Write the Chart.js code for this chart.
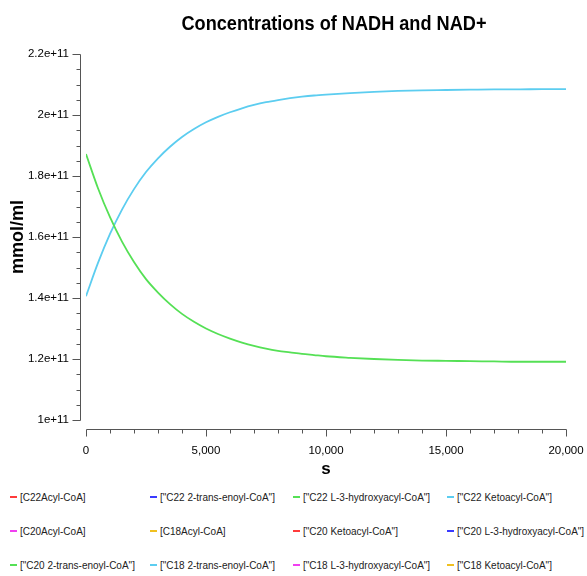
<!DOCTYPE html>
<html>
<head>
<meta charset="utf-8">
<script src="https://cdn.jsdelivr.net/npm/chart.js@4.4.0/dist/chart.umd.min.js"></script>
<style>
    body { margin: 0; background: #fff; }
    #chartBox { position: relative; width: 587px; height: 480px; }
    #legend {
        display: grid;
        grid-template-columns: 140px 143px 154px 150px;
        grid-auto-rows: 34px;
        padding-left: 10px;
        font: 10px "Liberation Sans", Arial, sans-serif;
        color: #222;
    }
    #legend .item { display: flex; align-items: center; white-space: nowrap; }
    #legend .mark { display: inline-block; width: 7px; height: 2px; margin-right: 3px; }
</style>
</head>
<body>
<div id="chartBox"><canvas id="concChart"></canvas></div>
<div id="legend"></div>
<script>
// Zeit (s)
const times = [0, 500, 1000, 1500, 2000, 2500, 3000, 3500, 4000, 4500, 5000,
    5500, 6000, 6500, 7000, 7500, 8000, 8500, 9000, 9500, 10000,
    11000, 12000, 13000, 14000, 15000, 16000, 17000, 18000, 19000, 20000];

// grüne Kurve (fällt), Werte in 1e11
const greenValues = [1.872, 1.760, 1.665, 1.585, 1.518, 1.462, 1.418, 1.380, 1.348, 1.322, 1.300,
    1.282, 1.267, 1.254, 1.243, 1.234, 1.227, 1.222, 1.217, 1.213, 1.209,
    1.204, 1.200, 1.197, 1.195, 1.194, 1.193, 1.192, 1.191, 1.191, 1.191];

// blaue Kurve (steigt), Werte in 1e11
const cyanValues = [1.406, 1.515, 1.610, 1.690, 1.757, 1.813, 1.858, 1.896, 1.928, 1.954, 1.976,
    1.994, 2.009, 2.022, 2.033, 2.042, 2.049, 2.055, 2.060, 2.064, 2.067,
    2.072, 2.076, 2.079, 2.081, 2.082, 2.083, 2.084, 2.084, 2.085, 2.085];

const seriesNames = [
    '[C22Acyl-CoA]', '["C22 2-trans-enoyl-CoA"]', '["C22 L-3-hydroxyacyl-CoA"]', '["C22 Ketoacyl-CoA"]',
    '[C20Acyl-CoA]', '[C18Acyl-CoA]', '["C20 Ketoacyl-CoA"]', '["C20 L-3-hydroxyacyl-CoA"]',
    '["C20 2-trans-enoyl-CoA"]', '["C18 2-trans-enoyl-CoA"]', '["C18 L-3-hydroxyacyl-CoA"]', '["C18 Ketoacyl-CoA"]'
];
const seriesColors = ['#ff3b3b', '#3a3aff', '#55e055', '#5ccdf0', '#f040f0', '#f0c020'];

const xTickStep = 5000;
const yTickStep = 2e10;
const X_MIN = 0, X_MAX = 20000;
const Y_MIN = 1e11, Y_MAX = 2.2e11;
const TITLE = 'Concentrations of NADH and NAD+';

const tickFont = { family: '"Liberation Sans", Arial, sans-serif', size: 11.5 };
const boldFamily = '"Liberation Sans", Arial, sans-serif';

function toPoints(values) {
    return times.map((t, i) => ({ x: t, y: values[i] * 1e11 }));
}

const datasets = seriesNames.map((name, i) => {
    let data = [];
    if (i === 2) data = toPoints(greenValues);
    if (i === 3) data = toPoints(cyanValues);
    return {
        label: name,
        data: data,
        borderColor: seriesColors[i % seriesColors.length],
        backgroundColor: seriesColors[i % seriesColors.length],
        borderWidth: 1.8,
        pointRadius: 0,
        cubicInterpolationMode: 'monotone',
        fill: false
    };
});

// Titel über der Plotfläche, etwas schmal gezogen
const titlePlugin = {
    id: 'plotTitle',
    afterDraw(chart) {
        const ctx = chart.ctx;
        ctx.save();
        ctx.font = 'bold 21px ' + boldFamily;
        const w = ctx.measureText(TITLE).width;
        const sx = 305 / w;
        ctx.translate(334, 24);
        ctx.scale(sx, 1);
        ctx.fillStyle = '#000';
        ctx.textAlign = 'center';
        ctx.textBaseline = 'middle';
        ctx.fillText(TITLE, 0, 0);
        ctx.restore();
    }
};

// abgesetzte Achsen mit Haupt- und Nebenstrichen
const axisPlugin = {
    id: 'offsetAxes',
    afterDraw(chart) {
        const { ctx, chartArea, scales } = chart;
        const x = scales.x, y = scales.y;
        ctx.save();
        ctx.strokeStyle = '#555';
        ctx.lineWidth = 1;
        ctx.beginPath();

        const ax = Math.round(chartArea.left - 6) + 0.5;
        ctx.moveTo(ax, Math.round(y.getPixelForValue(Y_MAX)) + 0.5);
        ctx.lineTo(ax, Math.round(y.getPixelForValue(Y_MIN)) + 0.5);
        for (let i = 0; i <= 24; i++) {
            const py = Math.round(y.getPixelForValue(Y_MIN + i * 5e9)) + 0.5;
            const len = i % 4 === 0 ? 8 : 4;
            ctx.moveTo(ax - len, py);
            ctx.lineTo(ax, py);
        }

        const ay = Math.round(chartArea.bottom + 9) + 0.5;
        ctx.moveTo(Math.round(x.getPixelForValue(X_MIN)) + 0.5, ay);
        ctx.lineTo(Math.round(x.getPixelForValue(X_MAX)) + 0.5, ay);
        for (let i = 0; i <= 20; i++) {
            const px = Math.round(x.getPixelForValue(X_MIN + i * 1000)) + 0.5;
            const len = i % 5 === 0 ? 7 : 4;
            ctx.moveTo(px, ay);
            ctx.lineTo(px, ay + len);
        }
        ctx.stroke();
        ctx.restore();
    }
};

const chart = new Chart(document.getElementById('concChart'), {
    type: 'line',
    data: { datasets: datasets },
    options: {
        responsive: true,
        maintainAspectRatio: false,
        animation: false,
        layout: { padding: { top: 54, right: 21, bottom: 0, left: 0 } },
        plugins: {
            legend: { display: false },
            tooltip: { enabled: false }
        },
        scales: {
            x: {
                type: 'linear',
                min: X_MIN,
                max: X_MAX,
                afterFit(scale) {
                    scale.height = 60;
                    scale.paddingLeft = 0;
                    scale.paddingRight = 0;
                },
                border: { display: false },
                grid: { display: false, drawTicks: false },
                ticks: {
                    stepSize: xTickStep,
                    padding: 24,
                    maxRotation: 0,
                    color: '#000',
                    font: tickFont
                },
                title: {
                    display: true,
                    text: 's',
                    color: '#000',
                    font: { family: boldFamily, size: 17, weight: 'bold' },
                    padding: { top: 0, bottom: 0 }
                }
            },
            y: {
                type: 'linear',
                min: Y_MIN,
                max: Y_MAX,
                afterFit(scale) { scale.width = 86; },
                border: { display: false },
                grid: { display: false, drawTicks: false },
                ticks: {
                    stepSize: yTickStep,
                    padding: 17,
                    color: '#000',
                    font: tickFont,
                    callback: v => Number(v.toPrecision(3)).toExponential()
                },
                title: {
                    display: true,
                    text: 'mmol/ml',
                    color: '#000',
                    font: { family: boldFamily, size: 18, weight: 'bold' },
                    padding: { top: 7, bottom: 0 }
                }
            }
        }
    },
    plugins: [titlePlugin, axisPlugin]
});

// Legende als Raster unter dem Diagramm
const legendBox = document.getElementById('legend');
chart.data.datasets.forEach(ds => {
    const item = document.createElement('div');
    item.className = 'item';
    const mark = document.createElement('span');
    mark.className = 'mark';
    mark.style.background = ds.borderColor;
    item.appendChild(mark);
    item.appendChild(document.createTextNode(ds.label));
    legendBox.appendChild(item);
});
</script>
</body>
</html>
